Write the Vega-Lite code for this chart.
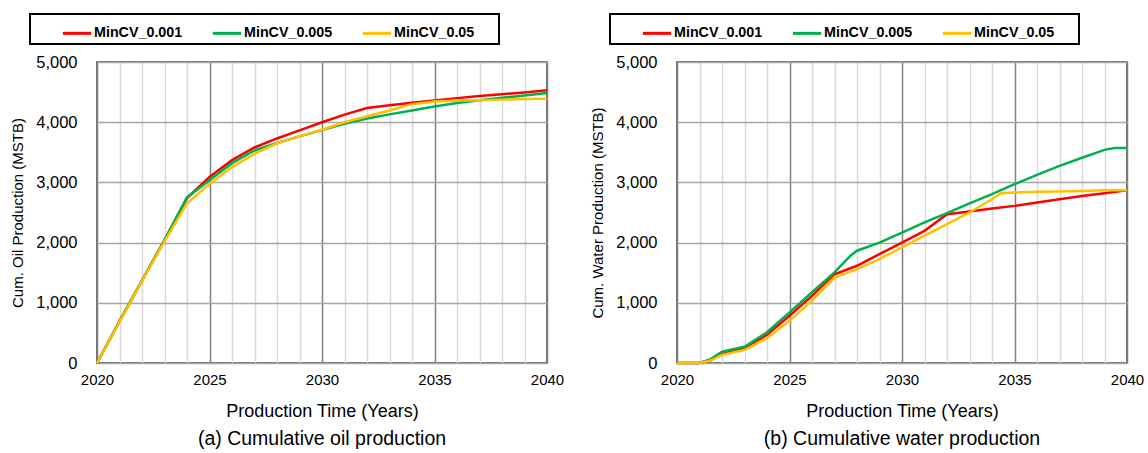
{
  "$schema": "https://vega.github.io/schema/vega-lite/v6.json",
  "padding": {"left": 9, "top": 12, "right": 5, "bottom": 5},
  "config": {
    "font": "Liberation Sans",
    "view": {"stroke": "#404040", "strokeWidth": 1.5},
    "axis": {"domain": false, "ticks": false, "labelColor": "#000", "titleColor": "#000", "titleFontWeight": "normal"},
    "legend": {"labelFont": "Liberation Sans"}
  },
  "datasets": {
    "oil": [
      {"c": "MinCV_0.001", "t": 2020, "v": 0}, {"c": "MinCV_0.001", "t": 2021, "v": 690}, {"c": "MinCV_0.001", "t": 2022, "v": 1370}, {"c": "MinCV_0.001", "t": 2023, "v": 2040}, {"c": "MinCV_0.001", "t": 2024, "v": 2740}, {"c": "MinCV_0.001", "t": 2025, "v": 3090}, {"c": "MinCV_0.001", "t": 2026, "v": 3370}, {"c": "MinCV_0.001", "t": 2027, "v": 3580}, {"c": "MinCV_0.001", "t": 2028, "v": 3730}, {"c": "MinCV_0.001", "t": 2029, "v": 3865}, {"c": "MinCV_0.001", "t": 2030, "v": 4000}, {"c": "MinCV_0.001", "t": 2031, "v": 4125}, {"c": "MinCV_0.001", "t": 2032, "v": 4235}, {"c": "MinCV_0.001", "t": 2033, "v": 4280}, {"c": "MinCV_0.001", "t": 2034, "v": 4325}, {"c": "MinCV_0.001", "t": 2035, "v": 4360}, {"c": "MinCV_0.001", "t": 2036, "v": 4400}, {"c": "MinCV_0.001", "t": 2037, "v": 4435}, {"c": "MinCV_0.001", "t": 2038, "v": 4465}, {"c": "MinCV_0.001", "t": 2039, "v": 4495}, {"c": "MinCV_0.001", "t": 2040, "v": 4530},
      {"c": "MinCV_0.005", "t": 2020, "v": 0}, {"c": "MinCV_0.005", "t": 2021, "v": 690}, {"c": "MinCV_0.005", "t": 2022, "v": 1370}, {"c": "MinCV_0.005", "t": 2023, "v": 2040}, {"c": "MinCV_0.005", "t": 2024, "v": 2750}, {"c": "MinCV_0.005", "t": 2025, "v": 3035}, {"c": "MinCV_0.005", "t": 2026, "v": 3320}, {"c": "MinCV_0.005", "t": 2027, "v": 3530}, {"c": "MinCV_0.005", "t": 2028, "v": 3655}, {"c": "MinCV_0.005", "t": 2029, "v": 3765}, {"c": "MinCV_0.005", "t": 2030, "v": 3870}, {"c": "MinCV_0.005", "t": 2031, "v": 3975}, {"c": "MinCV_0.005", "t": 2032, "v": 4060}, {"c": "MinCV_0.005", "t": 2033, "v": 4130}, {"c": "MinCV_0.005", "t": 2034, "v": 4195}, {"c": "MinCV_0.005", "t": 2035, "v": 4260}, {"c": "MinCV_0.005", "t": 2036, "v": 4320}, {"c": "MinCV_0.005", "t": 2037, "v": 4365}, {"c": "MinCV_0.005", "t": 2038, "v": 4405}, {"c": "MinCV_0.005", "t": 2039, "v": 4445}, {"c": "MinCV_0.005", "t": 2040, "v": 4485},
      {"c": "MinCV_0.05", "t": 2020, "v": 0}, {"c": "MinCV_0.05", "t": 2021, "v": 680}, {"c": "MinCV_0.05", "t": 2022, "v": 1360}, {"c": "MinCV_0.05", "t": 2023, "v": 2020}, {"c": "MinCV_0.05", "t": 2024, "v": 2650}, {"c": "MinCV_0.05", "t": 2025, "v": 2975}, {"c": "MinCV_0.05", "t": 2026, "v": 3255}, {"c": "MinCV_0.05", "t": 2027, "v": 3475}, {"c": "MinCV_0.05", "t": 2028, "v": 3650}, {"c": "MinCV_0.05", "t": 2029, "v": 3765}, {"c": "MinCV_0.05", "t": 2030, "v": 3875}, {"c": "MinCV_0.05", "t": 2031, "v": 4000}, {"c": "MinCV_0.05", "t": 2032, "v": 4100}, {"c": "MinCV_0.05", "t": 2033, "v": 4195}, {"c": "MinCV_0.05", "t": 2034, "v": 4300}, {"c": "MinCV_0.05", "t": 2035, "v": 4345}, {"c": "MinCV_0.05", "t": 2036, "v": 4360}, {"c": "MinCV_0.05", "t": 2037, "v": 4365}, {"c": "MinCV_0.05", "t": 2038, "v": 4375}, {"c": "MinCV_0.05", "t": 2039, "v": 4385}, {"c": "MinCV_0.05", "t": 2040, "v": 4390}
    ],
    "water": [
      {"c": "MinCV_0.001", "t": 2020, "v": 0}, {"c": "MinCV_0.001", "t": 2021, "v": 0}, {"c": "MinCV_0.001", "t": 2021.5, "v": 50}, {"c": "MinCV_0.001", "t": 2022, "v": 150}, {"c": "MinCV_0.001", "t": 2023, "v": 240}, {"c": "MinCV_0.001", "t": 2024, "v": 470}, {"c": "MinCV_0.001", "t": 2025, "v": 785}, {"c": "MinCV_0.001", "t": 2026, "v": 1115}, {"c": "MinCV_0.001", "t": 2027, "v": 1475}, {"c": "MinCV_0.001", "t": 2028, "v": 1615}, {"c": "MinCV_0.001", "t": 2029, "v": 1810}, {"c": "MinCV_0.001", "t": 2030, "v": 2000}, {"c": "MinCV_0.001", "t": 2031, "v": 2195}, {"c": "MinCV_0.001", "t": 2032, "v": 2470}, {"c": "MinCV_0.001", "t": 2033, "v": 2515}, {"c": "MinCV_0.001", "t": 2034, "v": 2565}, {"c": "MinCV_0.001", "t": 2035, "v": 2610}, {"c": "MinCV_0.001", "t": 2036, "v": 2665}, {"c": "MinCV_0.001", "t": 2037, "v": 2720}, {"c": "MinCV_0.001", "t": 2038, "v": 2775}, {"c": "MinCV_0.001", "t": 2039, "v": 2820}, {"c": "MinCV_0.001", "t": 2040, "v": 2870},
      {"c": "MinCV_0.005", "t": 2020, "v": 0}, {"c": "MinCV_0.005", "t": 2021, "v": 0}, {"c": "MinCV_0.005", "t": 2021.5, "v": 65}, {"c": "MinCV_0.005", "t": 2022, "v": 190}, {"c": "MinCV_0.005", "t": 2023, "v": 270}, {"c": "MinCV_0.005", "t": 2024, "v": 510}, {"c": "MinCV_0.005", "t": 2025, "v": 840}, {"c": "MinCV_0.005", "t": 2026, "v": 1175}, {"c": "MinCV_0.005", "t": 2027, "v": 1505}, {"c": "MinCV_0.005", "t": 2027.7, "v": 1780}, {"c": "MinCV_0.005", "t": 2028, "v": 1865}, {"c": "MinCV_0.005", "t": 2029, "v": 2000}, {"c": "MinCV_0.005", "t": 2030, "v": 2165}, {"c": "MinCV_0.005", "t": 2031, "v": 2335}, {"c": "MinCV_0.005", "t": 2032, "v": 2490}, {"c": "MinCV_0.005", "t": 2033, "v": 2650}, {"c": "MinCV_0.005", "t": 2034, "v": 2805}, {"c": "MinCV_0.005", "t": 2035, "v": 2970}, {"c": "MinCV_0.005", "t": 2036, "v": 3125}, {"c": "MinCV_0.005", "t": 2037, "v": 3275}, {"c": "MinCV_0.005", "t": 2038, "v": 3410}, {"c": "MinCV_0.005", "t": 2039, "v": 3540}, {"c": "MinCV_0.005", "t": 2039.45, "v": 3570}, {"c": "MinCV_0.005", "t": 2040, "v": 3570},
      {"c": "MinCV_0.05", "t": 2020, "v": 0}, {"c": "MinCV_0.05", "t": 2021, "v": 0}, {"c": "MinCV_0.05", "t": 2021.5, "v": 40}, {"c": "MinCV_0.05", "t": 2022, "v": 135}, {"c": "MinCV_0.05", "t": 2023, "v": 215}, {"c": "MinCV_0.05", "t": 2024, "v": 415}, {"c": "MinCV_0.05", "t": 2025, "v": 700}, {"c": "MinCV_0.05", "t": 2026, "v": 1035}, {"c": "MinCV_0.05", "t": 2027, "v": 1420}, {"c": "MinCV_0.05", "t": 2028, "v": 1560}, {"c": "MinCV_0.05", "t": 2029, "v": 1725}, {"c": "MinCV_0.05", "t": 2030, "v": 1920}, {"c": "MinCV_0.05", "t": 2031, "v": 2115}, {"c": "MinCV_0.05", "t": 2032, "v": 2305}, {"c": "MinCV_0.05", "t": 2033, "v": 2500}, {"c": "MinCV_0.05", "t": 2034, "v": 2720}, {"c": "MinCV_0.05", "t": 2034.4, "v": 2820}, {"c": "MinCV_0.05", "t": 2035, "v": 2832}, {"c": "MinCV_0.05", "t": 2036, "v": 2843}, {"c": "MinCV_0.05", "t": 2037, "v": 2848}, {"c": "MinCV_0.05", "t": 2038, "v": 2858}, {"c": "MinCV_0.05", "t": 2039, "v": 2868}, {"c": "MinCV_0.05", "t": 2040, "v": 2870}
    ]
  },
  "resolve": {"legend": {"color": "independent"}},
  "spacing": 24,
  "hconcat": [
    {
      "width": 450, "height": 301,
      "data": {"name": "oil"},
      "title": {"text": "(a) Cumulative oil production", "orient": "bottom", "fontSize": 19.5, "fontWeight": "normal", "color": "#000", "offset": 10},
      "mark": {"type": "line", "strokeWidth": 2.5},
      "encoding": {
        "x": {"field": "t", "type": "quantitative", "scale": {"domain": [2020, 2040], "nice": false},
          "axis": {"title": "Production Time (Years)", "titleFontSize": 18, "titlePadding": 15, "labelFontSize": 15, "labelPadding": 9, "format": "d", "labelFlush": false,
            "values": [2020,2021,2022,2023,2024,2025,2026,2027,2028,2029,2030,2031,2032,2033,2034,2035,2036,2037,2038,2039,2040],
            "labelExpr": "datum.value % 5 === 0 ? datum.label : ''",
            "gridColor": {"condition": {"test": "datum.value % 5 === 0", "value": "#808080"}, "value": "#d9d9d9"}, "gridWidth": 1.5}},
        "y": {"field": "v", "type": "quantitative", "scale": {"domain": [0, 5000], "nice": false},
          "axis": {"title": "Cum. Oil Production (MSTB)", "titleFontSize": 15, "titlePadding": 10, "labelFontSize": 16.5, "labelPadding": 20, "format": ",d", "values": [0,1000,2000,3000,4000,5000], "gridColor": "#a6a6a6", "gridWidth": 1.5}},
        "color": {"field": "c", "type": "nominal",
          "scale": {"domain": ["MinCV_0.001", "MinCV_0.005", "MinCV_0.05"], "range": ["#ff0000", "#00b050", "#ffc000"]},
          "legend": {"orient": "none", "legendX": -67, "legendY": -48, "direction": "horizontal",
            "title": "\u00a0", "titleOrient": "right", "titlePadding": 22, "titleFontSize": 10,
            "symbolType": "stroke", "symbolStrokeWidth": 3, "symbolSize": 800, "symbolOffset": 28,
            "labelFontSize": 14.3, "labelFontWeight": "bold", "labelColor": "#000", "labelOffset": 1, "columnPadding": 0,
            "strokeColor": "#000", "padding": 3,
            "encode": {"legend": {"update": {"strokeWidth": {"value": 2}}}}}}
      }
    },
    {
      "width": 450, "height": 301,
      "data": {"name": "water"},
      "title": {"text": "(b) Cumulative water production", "orient": "bottom", "fontSize": 19.5, "fontWeight": "normal", "color": "#000", "offset": 10},
      "mark": {"type": "line", "strokeWidth": 2.5},
      "encoding": {
        "x": {"field": "t", "type": "quantitative", "scale": {"domain": [2020, 2040], "nice": false},
          "axis": {"title": "Production Time (Years)", "titleFontSize": 18, "titlePadding": 15, "labelFontSize": 15, "labelPadding": 9, "format": "d", "labelFlush": false,
            "values": [2020,2021,2022,2023,2024,2025,2026,2027,2028,2029,2030,2031,2032,2033,2034,2035,2036,2037,2038,2039,2040],
            "labelExpr": "datum.value % 5 === 0 ? datum.label : ''",
            "gridColor": {"condition": {"test": "datum.value % 5 === 0", "value": "#808080"}, "value": "#d9d9d9"}, "gridWidth": 1.5}},
        "y": {"field": "v", "type": "quantitative", "scale": {"domain": [0, 5000], "nice": false},
          "axis": {"title": "Cum. Water Production (MSTB)", "titleFontSize": 15, "titlePadding": 10, "labelFontSize": 16.5, "labelPadding": 20, "format": ",d", "values": [0,1000,2000,3000,4000,5000], "gridColor": "#a6a6a6", "gridWidth": 1.5}},
        "color": {"field": "c", "type": "nominal",
          "scale": {"domain": ["MinCV_0.001", "MinCV_0.005", "MinCV_0.05"], "range": ["#ff0000", "#00b050", "#ffc000"]},
          "legend": {"orient": "none", "legendX": -67, "legendY": -48, "direction": "horizontal",
            "title": "\u00a0", "titleOrient": "right", "titlePadding": 22, "titleFontSize": 10,
            "symbolType": "stroke", "symbolStrokeWidth": 3, "symbolSize": 800, "symbolOffset": 28,
            "labelFontSize": 14.3, "labelFontWeight": "bold", "labelColor": "#000", "labelOffset": 1, "columnPadding": 0,
            "strokeColor": "#000", "padding": 3,
            "encode": {"legend": {"update": {"strokeWidth": {"value": 2}}}}}}
      }
    }
  ]
}
